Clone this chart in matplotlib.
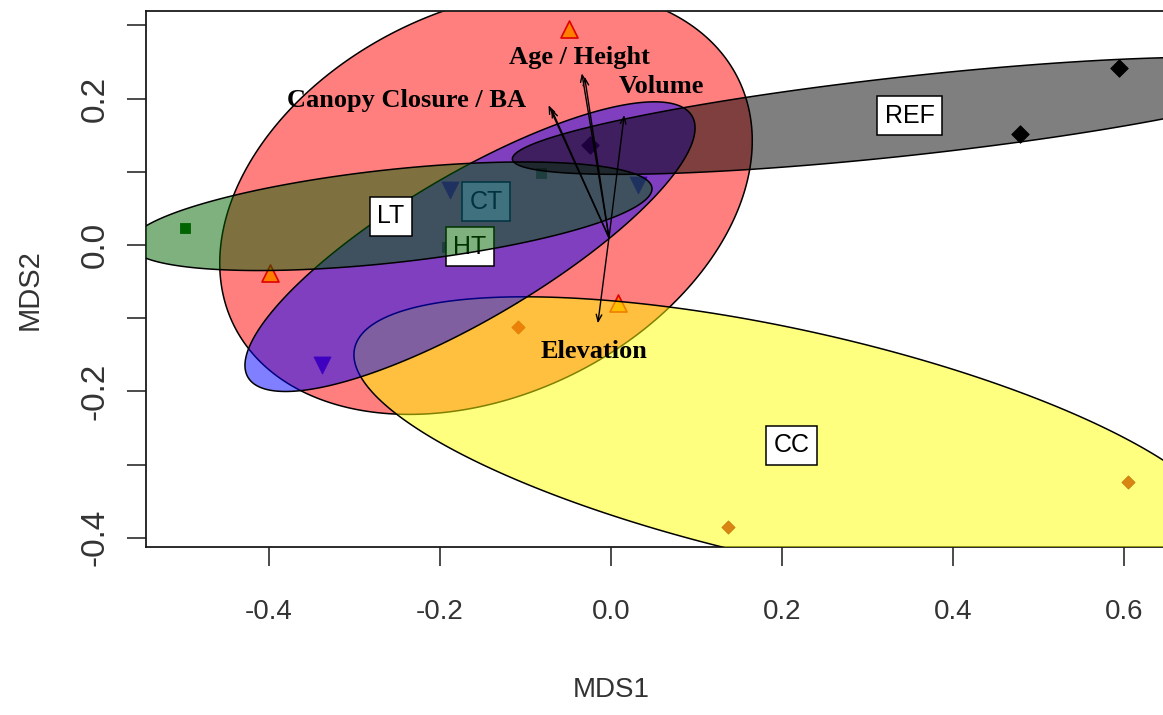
import numpy as np
import matplotlib
matplotlib.use("Agg")
import matplotlib.pyplot as plt
from matplotlib.patches import Polygon

plt.rcParams['axes.unicode_minus'] = False

# ---------------- data (NMDS site scores by group) ----------------
ct_x = [-0.0485, -0.398, 0.0091]
ct_y = [0.2947, -0.0387, -0.0797]
cc_x = [-0.1078, 0.1370, 0.6045]
cc_y = [-0.1116, -0.3848, -0.3242]
ht_x = [-0.1884, 0.0325, -0.3376]
ht_y = [0.0751, 0.0820, -0.1639]
lt_x = [-0.4982, -0.0816, -0.191]
lt_y = [0.0228, 0.098, -0.003]
ref_x = [-0.024, 0.4787, 0.5947]
ref_y = [0.137, 0.1512, 0.2414]

# envfit vectors
vec_names = ["Canopy Closure", "BA", "Age", "Height", "Volume", "Elevation"]
vec_x = [-0.0727, -0.0695, -0.0337, -0.0305, 0.0158, -0.0150]
vec_y = [0.191, 0.186, 0.2346, 0.2300, 0.1776, -0.107]
arrow_origin = (-0.002, 0.010)
vec_labels = ["Canopy Closure / BA", "Age / Height", "Volume", "Elevation"]
vec_label_x = [-0.239, -0.036, 0.059, -0.020]
vec_label_y = [0.197, 0.256, 0.216, -0.146]

x_ticks = [-0.4, -0.2, 0.0, 0.2, 0.4, 0.6]
x_ticklabels = ["-0.4", "-0.2", "0.0", "0.2", "0.4", "0.6"]
y_ticks = [-0.4, -0.2, 0.0, 0.2]
y_ticklabels = ["-0.4", "-0.2", "0.0", "0.2"]
y_minor = [-0.3, -0.1, 0.1, 0.3]

# draw order matches the original (later ellipses tint earlier ones)
groups = [
    ("CT", ct_x, ct_y, "red", dict(marker="^", s=150, facecolor="yellow", edgecolor="#C00000", linewidths=1.2)),
    ("CC", cc_x, cc_y, "yellow", dict(marker="D", s=45, facecolor="#B40A28", edgecolor="#8A0010", linewidths=0.6)),
    ("HT", ht_x, ht_y, "blue", dict(marker="v", s=150, facecolor="blue", edgecolor="blue", linewidths=0.6)),
    ("LT", lt_x, lt_y, "darkgreen", dict(marker="s", s=60, facecolor="darkgreen", edgecolor="darkgreen", linewidths=0.6)),
    ("REF", ref_x, ref_y, "black", dict(marker="D", s=80, facecolor="black", edgecolor="black", linewidths=0.6)),
]

W, H = 1163, 715
fig = plt.figure(figsize=(W / 100, H / 100), dpi=100)
left, right, top, bottom = 145.7, 1163, 11, 546.7
ax = fig.add_axes([left / W, 1 - bottom / H, (right - left) / W, (bottom - top) / H])
ax.set_xlim(-0.5437, 0.6458)
ax.set_ylim(-0.4122, 0.3197)

# points first
for name, xs, ys, col, mk in groups:
    ax.scatter(xs, ys, zorder=1, **mk)

# standard-error ellipses (95 %), like vegan::ordiellipse(kind="se", conf=0.95)
scale = np.sqrt(-2 * np.log(1 - 0.95))
t = np.linspace(0, 2 * np.pi, 300)
for i, (name, xs, ys, col, mk) in enumerate(groups):
    xs = np.asarray(xs); ys = np.asarray(ys)
    n = len(xs)
    cx, cy = xs.mean(), ys.mean()
    cov = np.cov(xs, ys) / n
    vals, vecs = np.linalg.eigh(cov)
    circ = np.vstack([np.cos(t), np.sin(t)]) * np.sqrt(np.clip(vals, 0, None))[:, None] * scale
    pts = (vecs @ circ).T + [cx, cy]
    z = 2 + i
    ax.add_patch(Polygon(pts, closed=True, facecolor=col, alpha=0.5, edgecolor="none", zorder=z))
    ax.add_patch(Polygon(pts, closed=True, facecolor="none", edgecolor="black", lw=1.1, zorder=z + 0.1))
    ax.text(cx, cy, name, ha="center", va="center", fontsize=18, family=["Liberation Sans", "DejaVu Sans"],
            color="black", zorder=z + 0.5,
            bbox=dict(boxstyle="square,pad=0.3", facecolor="white", edgecolor="black", lw=1.1))

# envfit arrows
for vx, vy in zip(vec_x, vec_y):
    ax.annotate("", xy=(vx, vy), xytext=arrow_origin, zorder=10,
                arrowprops=dict(arrowstyle="->,head_length=0.5,head_width=0.2", color="black", lw=1.0,
                                shrinkA=0, shrinkB=0))
for lab, lx, ly in zip(vec_labels, vec_label_x, vec_label_y):
    ax.text(lx, ly, lab, ha="center", va="center", fontsize=19, fontweight="bold",
            family=["Liberation Serif", "DejaVu Serif"], color="black", zorder=11)

# axes styling
for side in ["left", "bottom", "top"]:
    ax.spines[side].set_linewidth(1.3)
    ax.spines[side].set_color("#1a1a1a")
ax.spines["right"].set_visible(False)
ax.set_xticks(x_ticks)
ax.set_xticklabels(x_ticklabels)
ax.set_yticks(y_ticks)
ax.set_yticklabels(y_ticklabels, rotation=90, va="center")
ax.set_yticks(y_minor, minor=True)
ax.tick_params(axis="both", which="both", length=14, width=1.1, color="#1a1a1a")
ax.tick_params(axis="x", which="major", pad=24, labelsize=20)
ax.tick_params(axis="y", which="major", pad=11, labelsize=24)
for lab in ax.get_xticklabels() + ax.get_yticklabels():
    lab.set_family(["Liberation Sans", "DejaVu Sans"])
    lab.set_color("#333333")

fig.text(611 / W, 1 - 690 / H, "MDS1", ha="center", va="center", fontsize=20,
         family=["Liberation Sans", "DejaVu Sans"], color="#333333")
fig.text(30 / W, 1 - 290 / H, "MDS2", ha="center", va="center", fontsize=21, rotation=90,
         family=["Liberation Sans", "DejaVu Sans"], color="#333333")

fig.savefig("out.png", dpi=100)
